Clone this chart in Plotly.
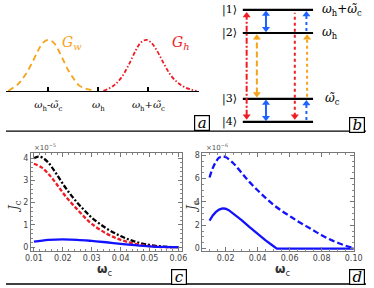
import plotly.graph_objects as go

W, H = 374, 288

# ---------------- data ----------------
# panel a: spectral densities (arb. units, omega_h = 0, omega_c~ = 1)
gw_x = [-1.8, -1.6, -1.45, -1.3, -1.2, -1.1, -1.0, -0.9, -0.8, -0.7, -0.6, -0.5, -0.4, -0.3, -0.2, -0.06]
gw_y = [0.0, 0.14, 0.33, 0.6, 0.8, 0.95, 1.0, 0.95, 0.8, 0.6, 0.4, 0.25, 0.12, 0.06, 0.03, 0.0]
gh_x = [0.1, 0.3, 0.45, 0.6, 0.75, 0.85, 0.96, 1.05, 1.15, 1.3, 1.45, 1.6, 1.75, 1.96]
gh_y = [0.0, 0.1, 0.25, 0.5, 0.8, 0.95, 1.0, 0.95, 0.82, 0.55, 0.3, 0.15, 0.06, 0.0]
a_tickvals = [-1, 0, 1]
a_ticktext = ["<i>ω</i><sub>h</sub>-<i>ω̃</i><sub>c</sub>", "<i>ω</i><sub>h</sub>",
              "<i>ω</i><sub>h</sub>+<i>ω̃</i><sub>c</sub>"]

# panel b: level scheme
omega_h, omega_c = 3.85, 1.0
level_names = ["|1⟩", "|2⟩", "|3⟩", "|4⟩"]
level_E = [omega_h + omega_c, omega_h, omega_c, 0.0]
level_right = ["<i>ω</i><sub>h</sub>+<i>ω̃</i><sub>c</sub>", "<i>ω</i><sub>h</sub>", "", ""]
level_right3 = "<i>ω̃</i><sub>c</sub>"
# transitions: (lower level idx, upper level idx)
trans_reddd = [(3, 0)]
trans_orange_dash = [(2, 1)]
trans_blue_solid = [(1, 0), (3, 2)]
trans_red_dot = [(3, 0)]
trans_orange_dot = [(2, 1)]
trans_blue_dot = [(1, 0), (3, 2)]

# panel c (x1e-5)
c_x_black = [0.01, 0.0115, 0.013, 0.015, 0.0175, 0.02, 0.0225, 0.025, 0.0275, 0.03, 0.035, 0.04, 0.045, 0.05, 0.055, 0.06]
c_black = [4.0, 4.07, 4.02, 3.8, 3.35, 2.85, 2.4, 2.0, 1.65, 1.33, 0.85, 0.5, 0.25, 0.1, 0.02, 0.0]
c_x_red = [0.01, 0.0125, 0.015, 0.0175, 0.02, 0.0225, 0.025, 0.0275, 0.03, 0.035, 0.04, 0.045, 0.05, 0.055, 0.06]
c_red = [3.75, 3.6, 3.3, 2.9, 2.45, 2.05, 1.7, 1.35, 1.05, 0.62, 0.33, 0.15, 0.05, 0.0, 0.0]
c_x_blue = [0.01, 0.015, 0.02, 0.025, 0.03, 0.035, 0.04, 0.045, 0.05, 0.055, 0.06]
c_blue = [0.25, 0.33, 0.35, 0.33, 0.28, 0.22, 0.15, 0.09, 0.04, 0.01, 0.0]

# panel d (x1e-6)
d_x_solid = [0.01, 0.012, 0.014, 0.016, 0.018, 0.02, 0.022, 0.025, 0.03, 0.035, 0.04, 0.045, 0.05, 0.052, 0.1]
d_solid = [2.4, 2.85, 3.15, 3.35, 3.45, 3.42, 3.3, 3.0, 2.45, 1.85, 1.25, 0.7, 0.2, 0.0, 0.0]
d_x_dash = [0.01, 0.012, 0.014, 0.016, 0.018, 0.02, 0.025, 0.03, 0.035, 0.04, 0.045, 0.05, 0.055, 0.06,
            0.065, 0.07, 0.075, 0.08, 0.085, 0.09, 0.095, 0.1]
d_dash = [6.1, 6.9, 7.45, 7.8, 7.9, 7.85, 7.3, 6.5, 5.7, 5.0, 4.35, 3.75, 3.25, 2.8,
          2.35, 1.95, 1.55, 1.15, 0.8, 0.5, 0.25, 0.05]

# ---------------- figure ----------------
def fx(p):
    return p / W

def fy(p):
    return 1 - p / H

ORANGE = "#f5a31a"
RED = "#ee1c25"
BLUE_B = "#1f63ff"
BLUE = "#1212ff"
SERIF = "DejaVu Serif, serif"
SANS = "DejaVu Sans, sans-serif"

fig = go.Figure()

# panel a
fig.add_trace(go.Scatter(x=gw_x, y=gw_y, mode="lines", line=dict(color=ORANGE, width=1.8, dash="6px,4px"),
                         line_shape="spline", xaxis="x", yaxis="y"))
fig.add_trace(go.Scatter(x=gh_x, y=gh_y, mode="lines", line=dict(color=RED, width=1.8, dash="4px,2px,1.5px,2px"),
                         line_shape="spline", xaxis="x", yaxis="y"))

# panel b levels
for E in level_E:
    fig.add_trace(go.Scatter(x=[0, 1], y=[E, E], mode="lines", line=dict(color="black", width=2.2),
                             xaxis="x2", yaxis="y2"))

PXU = 23.5  # pixels per energy unit in panel b
head = 5.5 / PXU


def add_arrow(col, lo, hi, color, dash, up, down, width=2.0, gap_px=2.0):
    g = gap_px / PXU
    y0 = level_E[lo] + g + (head * 0.6 if down else 0)
    y1 = level_E[hi] - g - (head * 0.6 if up else 0)
    fig.add_trace(go.Scatter(x=[col, col], y=[y0, y1], mode="lines",
                             line=dict(color=color, width=width, dash=dash), xaxis="x2", yaxis="y2"))
    if up:
        fig.add_trace(go.Scatter(x=[col], y=[level_E[hi] - g - head / 2], mode="markers",
                                 marker=dict(symbol="triangle-up", size=7, color=color),
                                 xaxis="x2", yaxis="y2"))
    if down:
        fig.add_trace(go.Scatter(x=[col], y=[level_E[lo] + g + head / 2], mode="markers",
                                 marker=dict(symbol="triangle-down", size=7, color=color),
                                 xaxis="x2", yaxis="y2"))


for lo, hi in trans_reddd:
    add_arrow(0.055, lo, hi, RED, "6px,2px,2px,2px", True, True, gap_px=3)
for lo, hi in trans_orange_dash:
    add_arrow(0.2, lo, hi, ORANGE, "6px,3px", True, True, gap_px=2)
for lo, hi in trans_blue_solid:
    add_arrow(0.33, lo, hi, BLUE_B, "solid", True, True, gap_px=1.5)
for lo, hi in trans_red_dot:
    add_arrow(0.74, lo, hi, RED, "dot", False, True, gap_px=3)
for lo, hi in trans_orange_dot:
    add_arrow(0.915, lo, hi, ORANGE, "dot", True, False, gap_px=2)
for lo, hi in trans_blue_dot:
    add_arrow(0.905, lo, hi, BLUE_B, "dot", True, False, gap_px=2)

# panel c
fig.add_trace(go.Scatter(x=c_x_black, y=c_black, mode="lines", line_shape="spline",
                         line=dict(color="black", width=2.3, dash="5px,2px,2px,2px"), xaxis="x3", yaxis="y3"))
fig.add_trace(go.Scatter(x=c_x_red, y=c_red, mode="lines", line_shape="spline",
                         line=dict(color=RED, width=2.3, dash="4px,2px"), xaxis="x3", yaxis="y3"))
fig.add_trace(go.Scatter(x=c_x_blue, y=c_blue, mode="lines", line_shape="spline",
                         line=dict(color=BLUE, width=2.3), xaxis="x3", yaxis="y3"))

# panel d
fig.add_trace(go.Scatter(x=d_x_dash, y=d_dash, mode="lines", line_shape="spline",
                         line=dict(color=BLUE, width=2.3, dash="6px,3px"), xaxis="x4", yaxis="y4"))
fig.add_trace(go.Scatter(x=d_x_solid, y=d_solid, mode="lines",
                         line=dict(color=BLUE, width=2.3), xaxis="x4", yaxis="y4"))

hidden = dict(visible=False, showgrid=False, zeroline=False)
frame = dict(showline=True, mirror="ticks", linecolor="#777", linewidth=1, ticks="inside", ticklen=4,
             tickcolor="#777", tickfont=dict(family=SANS, size=8, color="#444"), showgrid=False,
             zeroline=False, minor=dict(ticks="inside", ticklen=2, tickcolor="#888"))

fig.update_layout(
    width=W, height=H, margin=dict(l=0, r=0, t=0, b=0), paper_bgcolor="white", plot_bgcolor="rgba(0,0,0,0)",
    showlegend=False, hovermode=False,
    xaxis=dict(domain=[0, fx(200)], range=[-1.846, 2.0], tickvals=a_tickvals, ticktext=a_ticktext,
               ticks="inside", ticklen=4, tickwidth=2, tickcolor="black", showline=True, linecolor="black",
               linewidth=1.5, showgrid=False, zeroline=False, anchor="y",
               tickfont=dict(family=SERIF, size=10, color="black"), ticklabelstandoff=4),
    yaxis=dict(domain=[fy(90.5), 1], range=[0, 90.5 / 52], **hidden),
    xaxis2=dict(domain=[fx(200), 1], range=[-0.630, 1.753], anchor="y2", **hidden),
    yaxis2=dict(domain=[fy(131), 1], range=[-(131 - 122) / PXU, 122 / PXU], anchor="x2", **hidden),
    xaxis3=dict(domain=[fx(26), fx(183)], range=[0.009, 0.0613], anchor="y3", dtick=0.01, tick0=0,
                tickformat=".2f", **frame),
    yaxis3=dict(domain=[fy(253), fy(154)], range=[-0.155, 4.22], anchor="x3", dtick=1, **frame),
    xaxis4=dict(domain=[fx(204), fx(362)], range=[0.0055, 0.1005], anchor="y4", dtick=0.02, tick0=0,
                tickformat=".2f", **frame),
    yaxis4=dict(domain=[fy(253), fy(154)], range=[-0.17, 8.17], anchor="x4", dtick=2, **frame),
)
fig.update_layout(xaxis3_minor_dtick=0.002, yaxis3_minor_dtick=0.2,
                  xaxis4_minor_dtick=0.005, yaxis4_minor_dtick=0.5)

ann = []
# panel a labels
ann.append(dict(x=-0.52, y=0.93, xref="x", yref="y", text="<i>G<sub>w</sub></i>", showarrow=False,
                font=dict(family=SERIF, size=14, color=ORANGE)))
ann.append(dict(x=1.65, y=0.93, xref="x", yref="y", text="<i>G<sub>h</sub></i>", showarrow=False,
                font=dict(family=SERIF, size=14, color=RED)))
# panel b labels
for name, E in zip(level_names, level_E):
    ann.append(dict(x=-0.19, y=E, xref="x2", yref="y2", text=name, showarrow=False,
                    xanchor="center", yanchor="middle",
                    font=dict(family=SERIF, size=11, color="black")))
for lab, E in zip(level_right, level_E):
    if lab:
        ann.append(dict(x=1.1, y=E, xref="x2", yref="y2", text=lab, showarrow=False, xanchor="left",
                        yanchor="middle", font=dict(family=SERIF, size=12, color="black")))
ann.append(dict(x=1.14, y=level_E[2], xref="x2", yref="y2", text=level_right3, showarrow=False,
                xanchor="left", yanchor="middle", font=dict(family=SERIF, size=12, color="black")))

# boxed panel letters
for letter, cx, cy in [("a", 203.5, 123), ("b", 365, 125), ("c", 180, 279.5), ("d", 365, 279.5)]:
    ann.append(dict(x=fx(cx), y=fy(cy), xref="paper", yref="paper", text="<i>" + letter + "</i>",
                    showarrow=False, font=dict(family=SERIF, size=15, color="black"),
                    bordercolor="black", borderwidth=1.2, borderpad=0, bgcolor="white",
                    width=14, height=14, xanchor="center", yanchor="middle"))

# axis titles c, d
for cx in [102, 287]:
    ann.append(dict(x=fx(cx), y=fy(272.5), xref="paper", yref="paper", text="<b>ω</b><sub>c</sub>",
                    xanchor="center", yanchor="middle",
                    showarrow=False, font=dict(family=SANS, size=12, color="#333")))
for cx in [10, 195]:
    ann.append(dict(x=fx(cx), y=fy(208), xref="paper", yref="paper", text="<i>J</i><sub>c</sub>",
                    xanchor="center", yanchor="middle",
                    showarrow=False, textangle=-90, font=dict(family=SERIF, size=12, color="#333")))
ann.append(dict(x=fx(27), y=fy(148), xref="paper", yref="paper", text="×10<sup>−5</sup>", showarrow=False,
                xanchor="left", yanchor="middle", font=dict(family=SANS, size=7, color="#555")))
ann.append(dict(x=fx(206), y=fy(148), xref="paper", yref="paper", text="×10<sup>−6</sup>", showarrow=False,
                xanchor="left", yanchor="middle", font=dict(family=SANS, size=7, color="#555")))
fig.update_layout(annotations=ann)

fig.update_layout(shapes=[
    dict(type="line", xref="paper", yref="paper", x0=0, x1=1, y0=fy(131.5), y1=fy(131.5),
         line=dict(color="black", width=1.3)),
    dict(type="line", xref="paper", yref="paper", x0=0, x1=1, y0=fy(287), y1=fy(287),
         line=dict(color="black", width=1.3)),
])

fig.write_html("out.html", config={"displayModeBar": False, "staticPlot": True},
               post_script="document.body.style.margin='0px';document.body.style.overflow='hidden';")
